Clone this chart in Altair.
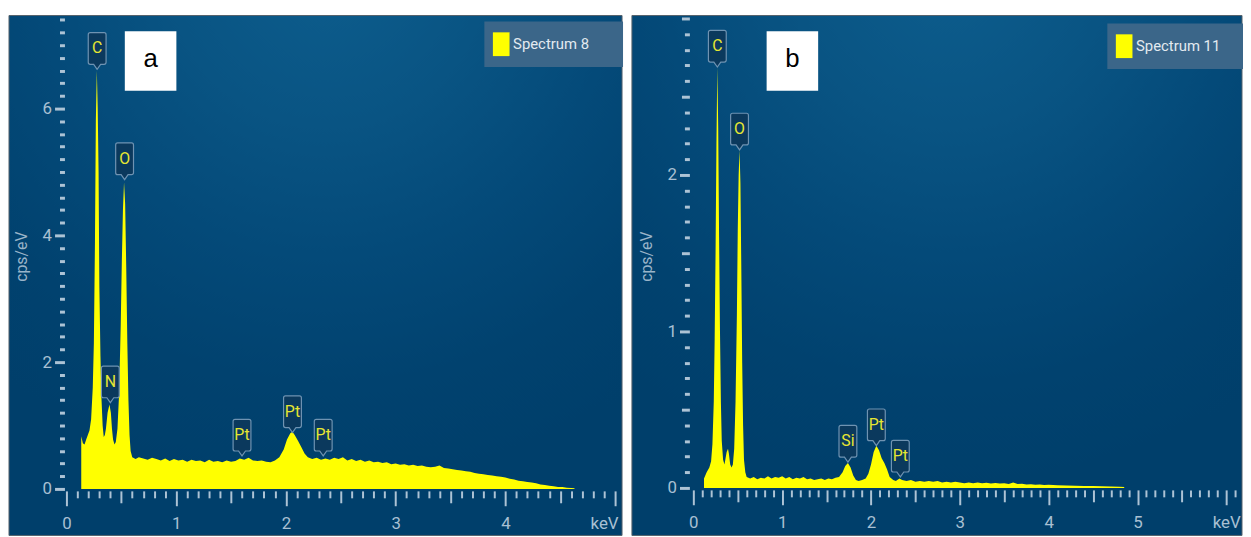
import altair as alt
import pandas as pd

# ---------------- data: panel a (Spectrum 8) ----------------
energy_a = [0.135, 0.15, 0.165, 0.18, 0.195, 0.21, 0.225, 0.24, 0.25, 0.26, 0.268, 0.277, 0.285, 0.293,
            0.30, 0.31, 0.32, 0.33, 0.34, 0.35, 0.36, 0.375, 0.392, 0.405, 0.415, 0.425, 0.438, 0.45,
            0.465, 0.48, 0.495, 0.505, 0.515, 0.525, 0.535, 0.545, 0.555, 0.565, 0.575, 0.585,
            0.60, 0.63, 0.66, 0.70, 0.74, 0.78, 0.82, 0.86, 0.90, 0.94, 0.98, 1.02, 1.06, 1.10, 1.14,
            1.18, 1.22, 1.26, 1.30, 1.34, 1.38, 1.42, 1.46, 1.50, 1.54, 1.58, 1.62, 1.66, 1.70, 1.74,
            1.78, 1.82, 1.86, 1.90, 1.94, 1.98, 2.01, 2.04, 2.06, 2.08, 2.11, 2.14, 2.17, 2.20, 2.24,
            2.28, 2.32, 2.36, 2.40, 2.44, 2.48, 2.52, 2.56, 2.60, 2.64, 2.68, 2.72, 2.76, 2.80, 2.84,
            2.88, 2.92, 2.96, 3.00, 3.04, 3.08, 3.12, 3.16, 3.20, 3.24, 3.28, 3.32, 3.36, 3.40, 3.44,
            3.48, 3.52, 3.56, 3.60, 3.64, 3.68, 3.72, 3.76, 3.80, 3.84, 3.88, 3.92, 3.96, 4.00, 4.04,
            4.08, 4.12, 4.16, 4.20, 4.24, 4.28, 4.32, 4.36, 4.40, 4.44, 4.48, 4.52, 4.56, 4.60, 4.63]
cps_a = [0.83, 0.72, 0.70, 0.78, 0.85, 0.92, 1.10, 1.60, 2.30, 3.90, 5.80, 6.60, 6.00, 5.00,
         3.20, 2.10, 1.40, 1.00, 0.82, 0.85, 0.95, 1.20, 1.33, 1.20, 0.95, 0.78, 0.70, 0.74,
         0.95, 1.50, 2.60, 3.60, 4.40, 4.84, 4.50, 3.50, 2.30, 1.40, 0.85, 0.60,
         0.50, 0.47, 0.50, 0.48, 0.46, 0.49, 0.47, 0.45, 0.48, 0.44, 0.47, 0.45, 0.46, 0.43, 0.46,
         0.44, 0.45, 0.42, 0.46, 0.43, 0.44, 0.42, 0.45, 0.43, 0.44, 0.48, 0.46, 0.49, 0.45, 0.44,
         0.45, 0.43, 0.42, 0.45, 0.50, 0.62, 0.78, 0.88, 0.90, 0.85, 0.76, 0.66, 0.56, 0.50, 0.47,
         0.49, 0.46, 0.48, 0.46, 0.49, 0.47, 0.50, 0.45, 0.47, 0.44, 0.46, 0.43, 0.45, 0.42, 0.43,
         0.41, 0.42, 0.39, 0.40, 0.38, 0.39, 0.37, 0.38, 0.36, 0.37, 0.35, 0.34, 0.35, 0.37, 0.33,
         0.32, 0.31, 0.30, 0.29, 0.28, 0.27, 0.25, 0.24, 0.23, 0.22, 0.21, 0.20, 0.19, 0.18, 0.16,
         0.15, 0.13, 0.12, 0.11, 0.10, 0.09, 0.07, 0.06, 0.05, 0.04, 0.03, 0.03, 0.02, 0.015, 0.01]

peaks_a_el = ["C", "O", "N", "Pt", "Pt", "Pt"]
peaks_a_e = [0.28, 0.53, 0.40, 1.60, 2.06, 2.34]
peaks_a_v = [6.62, 4.88, 1.36, 0.52, 0.89, 0.52]

# ---------------- data: panel b (Spectrum 11) ----------------
energy_b = [0.12, 0.15, 0.18, 0.20, 0.215, 0.23, 0.24, 0.25, 0.26, 0.27, 0.28, 0.29, 0.30, 0.31,
            0.32, 0.335, 0.35, 0.36, 0.375, 0.39, 0.40, 0.415, 0.43, 0.445, 0.46, 0.475, 0.49, 0.50,
            0.51, 0.52, 0.53, 0.54, 0.55, 0.56, 0.57, 0.585,
            0.60, 0.64, 0.68, 0.72, 0.76, 0.80, 0.84, 0.88, 0.92, 0.96, 1.00, 1.04, 1.08, 1.12, 1.16,
            1.20, 1.24, 1.28, 1.32, 1.36, 1.40, 1.44, 1.48, 1.52, 1.56, 1.60, 1.64, 1.68, 1.71, 1.74,
            1.77, 1.80, 1.83, 1.86, 1.90, 1.94, 1.97, 2.00, 2.03, 2.06, 2.09, 2.12, 2.15, 2.18, 2.21,
            2.25, 2.28, 2.32, 2.35, 2.40, 2.45, 2.50, 2.55, 2.60, 2.65, 2.70, 2.75, 2.80, 2.85, 2.90,
            2.95, 3.00, 3.05, 3.10, 3.15, 3.20, 3.25, 3.30, 3.35, 3.40, 3.45, 3.50, 3.55, 3.60, 3.65,
            3.70, 3.75, 3.80, 3.85, 3.90, 3.95, 4.00, 4.10, 4.20, 4.30, 4.40, 4.50, 4.60, 4.70, 4.80, 4.85]
cps_b = [0.06, 0.10, 0.13, 0.17, 0.28, 0.55, 0.95, 1.50, 2.20, 2.69, 2.30, 1.60, 1.00, 0.55,
         0.30, 0.18, 0.15, 0.18, 0.23, 0.25, 0.22, 0.15, 0.13, 0.15, 0.25, 0.55, 1.10, 1.65,
         2.00, 2.16, 1.95, 1.40, 0.80, 0.40, 0.18, 0.10,
         0.07, 0.06, 0.07, 0.055, 0.065, 0.06, 0.075, 0.06, 0.07, 0.065, 0.075, 0.06, 0.07, 0.055, 0.065,
         0.06, 0.07, 0.055, 0.06, 0.05, 0.055, 0.06, 0.05, 0.06, 0.055, 0.065, 0.07, 0.10, 0.14, 0.16,
         0.13, 0.08, 0.05, 0.045, 0.05, 0.06, 0.09, 0.15, 0.23, 0.27, 0.24, 0.19, 0.16, 0.12, 0.07,
         0.05, 0.045, 0.06, 0.05, 0.045, 0.05, 0.04, 0.045, 0.04, 0.045, 0.04, 0.045, 0.035, 0.04, 0.035,
         0.04, 0.035, 0.03, 0.035, 0.03, 0.035, 0.03, 0.033, 0.028, 0.032, 0.028, 0.03, 0.025, 0.035, 0.025,
         0.027, 0.022, 0.024, 0.02, 0.022, 0.018, 0.02, 0.017, 0.015, 0.014, 0.012, 0.012, 0.01, 0.009, 0.008, 0.006]

peaks_b_el = ["C", "O", "Si", "Pt", "Pt"]
peaks_b_e = [0.27, 0.52, 1.74, 2.06, 2.33]
peaks_b_v = [2.69, 2.16, 0.165, 0.27, 0.07]

# panel tags (white boxes "a" / "b"), in data units of each panel
tag_a = {"lab": ["a"], "x1": [0.532], "x2": [1.002], "y1": [6.28], "y2": [7.22]}
tag_b = {"lab": ["b"], "x1": [0.825], "x2": [1.405], "y1": [2.538], "y2": [2.918]}

FONT = "Roboto, Open Sans, sans-serif"
TICK = "#adc3d5"
LABEL = "#a9c0d3"

CALLOUT = ("M0,0 L-0.35,-0.5 L-0.7,-0.5 Q-0.9,-0.5 -0.9,-0.7 L-0.9,-3.5 Q-0.9,-3.7 -0.7,-3.7 "
           "L0.7,-3.7 Q0.9,-3.7 0.9,-3.5 L0.9,-0.7 Q0.9,-0.5 0.7,-0.5 L0.35,-0.5 Z")
LEG_SYMBOL = "M-0.7,-1H0.7V1H-0.7Z"

bg_gradient = alt.RadialGradient(
    gradient="radial", x1=0.52, y1=0.0, r1=0.0, x2=0.52, y2=0.0, r2=0.85,
    stops=[
        alt.GradientStop(color="#0d5d8d", offset=0.0),
        alt.GradientStop(color="#095483", offset=0.3),
        alt.GradientStop(color="#044a79", offset=0.55),
        alt.GradientStop(color="#01426f", offset=0.8),
        alt.GradientStop(color="#003f6b", offset=1.0),
    ],
)


def frange_ticks(stop, step, excl_steps):
    vals = []
    n = int(round(stop / step))
    for i in range(1, n + 1):
        v = round(i * step, 2)
        if any(abs(v / e - round(v / e)) < 1e-6 for e in excl_steps):
            continue
        vals.append(v)
    return vals


def panel(energy, cps, name, el, pe, pv, tag, W, H, xdom, ydom, x_major, x_max_tick, x_off, keV_off,
          y_major, y_step, y_half, y_top, y_off, leg_x, leg_y, leg_pad_n):
    df = pd.DataFrame({"E": energy, "cps": cps, "series": name})
    xs = alt.Scale(domain=xdom, nice=False, zero=False)
    ys = alt.Scale(domain=ydom, nice=False, zero=False)

    bg = alt.Chart(pd.DataFrame({"k": [0]})).mark_rect(
        fill=bg_gradient, stroke="#56626c", strokeWidth=1
    ).encode(x=alt.value(0), x2=alt.value("width"), y=alt.value(0), y2=alt.value("height"))

    keV_val = x_major[-1]
    x_axis = alt.Axis(
        values=x_major, orient="bottom", offset=x_off, domain=False, grid=False, zindex=1,
        tickColor=TICK, tickWidth=2, tickSize=15, labelColor=LABEL, labelFont=FONT,
        labelFontSize=17, labelPadding=10, labelFlush=20, labelFlushOffset=keV_off,
        labelExpr=f"datum.value == {keV_val} ? 'keV' : datum.label", title=None,
    )
    y_axis = alt.Axis(
        values=y_major, orient="left", offset=y_off, domain=False, grid=False, zindex=1,
        tickColor=TICK, tickWidth=3, tickSize=10, labelColor=LABEL, labelFont=FONT,
        labelFontSize=17, labelPadding=3,
        title="cps/eV", titleColor="#9ab4c9", titleFont=FONT, titleFontSize=16, titleFontWeight="normal",
        titleX=-43, titleY=243, titleAngle=270, titleAlign="center", titleBaseline="middle",
    )
    pad = "\u00a0" * leg_pad_n + "\u200b"
    spectrum = alt.Chart(df).mark_area(interpolate="linear", opacity=1).encode(
        x=alt.X("E:Q", scale=xs, axis=x_axis),
        y=alt.Y("cps:Q", scale=ys, axis=y_axis),
        y2=alt.datum(0),
        color=alt.Color(
            "series:N", scale=alt.Scale(domain=[name], range=["#ffff00"]),
            legend=alt.Legend(
                orient="none", legendX=leg_x, legendY=leg_y, title=None, zindex=1,
                fillColor="#3b6689", padding=11, symbolType=LEG_SYMBOL, symbolSize=576,
                symbolStrokeWidth=0, symbolOpacity=1, symbolOffset=-6,
                labelColor="#e3eaf0", labelFont=FONT, labelFontSize=15, labelOffset=0,
                labelExpr="datum.label + '" + pad + "'",
            ),
        ),
    )

    x_minor_vals = frange_ticks(x_max_tick, 0.1, [0.5])
    x_half_vals = [v + 0.5 for v in range(int(x_max_tick))]
    y_minor_vals = frange_ticks(y_top, y_step, [y_half if y_half else y_major[1] - y_major[0]])
    if y_half:
        y_minor_vals = [v for v in y_minor_vals if abs(v - round(v)) > 1e-6]
    y_minor_vals = [v for v in y_minor_vals if v not in y_major]

    minor = alt.Chart(df).mark_point(opacity=0).encode(
        x=alt.X("E:Q", scale=xs, axis=alt.Axis(
            values=x_minor_vals, orient="bottom", offset=x_off, domain=False, grid=False, zindex=1,
            labels=False, tickColor=TICK, tickWidth=2, tickSize=7, title=None)),
        y=alt.Y("cps:Q", scale=ys, axis=alt.Axis(
            values=y_minor_vals, orient="left", offset=y_off, domain=False, grid=False, zindex=1,
            labels=False, tickColor=TICK, tickWidth=3, tickSize=5, title=None)),
    )
    y_half_axis = None
    if y_half:
        y_half_axis = alt.Axis(
            values=[v + 0.5 for v in range(int(y_top))] + [y_top], orient="left", offset=y_off,
            domain=False, grid=False, zindex=1, labels=False, tickColor=TICK, tickWidth=3,
            tickSize=8, title=None)
    half = alt.Chart(df).mark_point(opacity=0).encode(
        x=alt.X("E:Q", scale=xs, axis=alt.Axis(
            values=x_half_vals, orient="bottom", offset=x_off, domain=False, grid=False, zindex=1,
            labels=False, tickColor=TICK, tickWidth=2, tickSize=12, title=None)),
        y=alt.Y("cps:Q", scale=ys, axis=y_half_axis),
    )

    pk = pd.DataFrame({"el": el, "E": pe, "v": pv})
    callouts = alt.Chart(pk).mark_point(
        shape=CALLOUT, size=400, filled=True, fill="#0b395d", stroke="#6f93b2",
        strokeWidth=1.2, opacity=1, fillOpacity=1, strokeOpacity=1,
    ).encode(x=alt.X("E:Q", scale=xs, axis=None), y=alt.Y("v:Q", scale=ys, axis=None))
    ctext = alt.Chart(pk).mark_text(
        dy=-21, color="#e6e632", font=FONT, fontSize=16, baseline="middle", align="center"
    ).encode(x=alt.X("E:Q", scale=xs, axis=None), y=alt.Y("v:Q", scale=ys, axis=None), text="el:N")

    tg = pd.DataFrame(tag)
    tg["xc"] = (tg["x1"] + tg["x2"]) / 2
    tg["yc"] = (tg["y1"] + tg["y2"]) / 2
    tagbox = alt.Chart(tg).mark_rect(fill="white").encode(
        x=alt.X("x1:Q", scale=xs, axis=None), x2="x2:Q",
        y=alt.Y("y1:Q", scale=ys, axis=None), y2="y2:Q")
    tagtext = alt.Chart(tg).mark_text(
        color="black", font="Liberation Sans, Open Sans, sans-serif", fontSize=26,
        baseline="middle", align="center", dy=-2
    ).encode(x=alt.X("xc:Q", scale=xs, axis=None), y=alt.Y("yc:Q", scale=ys, axis=None), text="lab:N")

    return alt.layer(bg, spectrum, minor, half, callouts, ctext, tagbox, tagtext).properties(
        width=W, height=H
    ).resolve_axis(x="independent", y="independent")


H = 525
WA, WB = 619, 616
# panel a: x=0 at 58px, 110.8 px/keV; y=0 at 478px, 64 px/unit
pa = panel(energy_a, cps_a, "Spectrum 8", peaks_a_el, peaks_a_e, peaks_a_v, tag_a, WA, H,
           [-58 / 110.8, (WA - 58) / 110.8], [-(H - 478) / 64, 478 / 64],
           [0, 1, 2, 3, 4, 5], 5.0, -45, 3,
           [0, 2, 4, 6], 0.2, None, 7.4, -56, 480, 6, 6)
# panel b: x=0 at 62px, 89.7 px/keV; y=0 at 477px, 158 px/unit
pb = panel(energy_b, cps_b, "Spectrum 11", peaks_b_el, peaks_b_e, peaks_b_v, tag_b, WB, H,
           [-62 / 89.7, (WB - 62) / 89.7], [-(H - 477) / 158, 477 / 158],
           [0, 1, 2, 3, 4, 5, 6], 6.1, -46, 14,
           [0, 1, 2], 0.1, 0.5, 3.0, -58, 480, 8, 3)

chart = alt.hconcat(pa, pb, spacing=8).resolve_scale(color="independent").properties(
    padding={"left": 0, "top": 4, "right": 0, "bottom": 0}
).configure(background="white").configure_view(strokeWidth=0)

chart.save("out.html", embed_options={"renderer": "svg", "actions": False})
